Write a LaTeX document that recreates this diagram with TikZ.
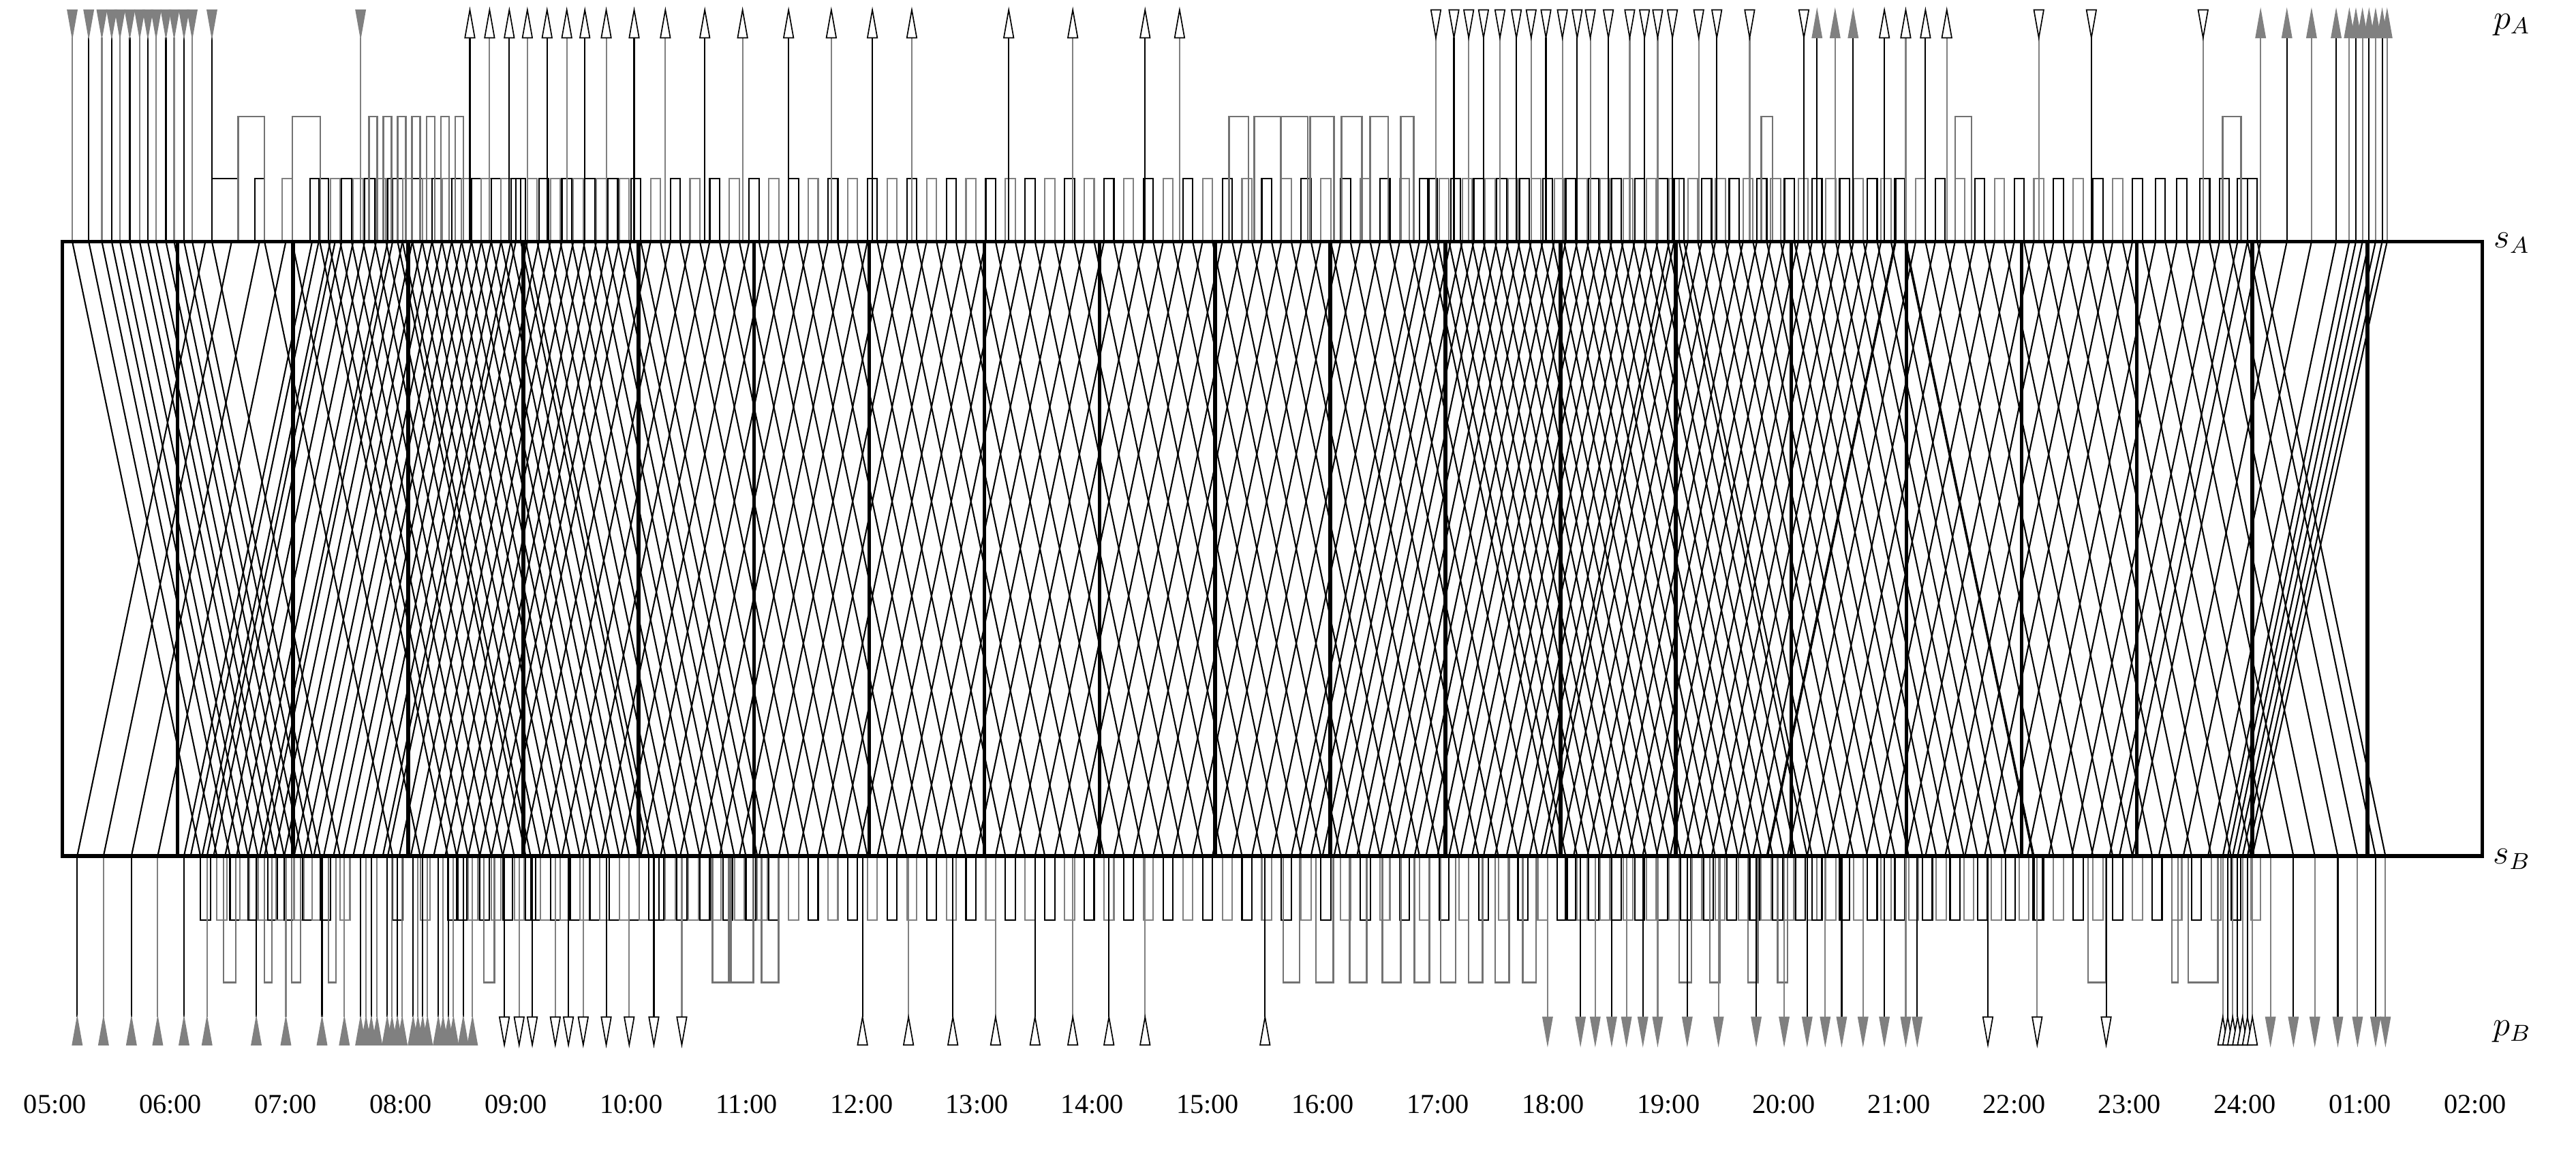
\documentclass[tikz,border=0pt]{standalone}
\usepackage{fontspec}
\setmainfont{Liberation Serif}
\begin{document}
\begin{tikzpicture}[x=0.02cm,y=-0.02cm,
  trip/.style={line width=0.5pt,black},
  combk/.style={line width=0.5pt,black},
  combg/.style={line width=0.5pt,black!50},
  tallg/.style={line width=0.6pt,black!55},
  heavy/.style={line width=1.3pt,black},
  headg/.style={fill=black!50,draw=black!50,line width=0.3pt},
  heado/.style={fill=white,draw=black,line width=0.4pt},
  lbl/.style={font=\fontsize{9.5}{11}\selectfont,inner sep=0pt},
  sidelbl/.style={font=\fontsize{12}{14}\selectfont,inner sep=0pt}]
\useasboundingbox (0,0) rectangle (1568,706);

% ---------- regular service (A departures, combs, B turnbacks)
\foreach \s/\e/\hd/\asc in {161/200/16.8/0,200/245/7/1,245/320/6/1,320/390/7/1,390/875/12/1,875/1025/7/1,1025/1160/8.4/1,1160/1300/12/1}{
  \pgfmathsetmacro\nxt{\s+\hd}
  \pgfmathsetmacro\lst{\e-0.5}
  \foreach \d [count=\k] in {\s,\nxt,...,\lst}{
    \ifodd\k \def\cst{combk}\else\def\cst{combg}\fi
    \draw[trip] (\d,147) -- ++(78,374);
    \ifnum\asc=1 \draw[trip] (\d-84,521) -- (\d-6,147);\fi
    \draw[\cst] (\d-6,147) |- (\d,108.5) -- (\d,147);
    \draw[\cst] (\d+78,521) |- (\d+84,560) -- (\d+84,521);
  }
}

% ---------- early morning trips
\foreach \x [count=\k] in {44,54,62,68,73,79,85,90,95,101,106,112,117,129}{
  \ifodd\k \def\cst{combk}\else\def\cst{combg}\fi
  \draw[trip] (\x,147) -- ++(78,374);
  \draw[\cst] (\x+78,521) |- (\x+84,560) -- (\x+84,521);
}
\foreach \x in {47,63,80,96,112,126} \draw[trip] (\x,521) -- ++(78,-374);
\draw[combk] (129,147) |- (145,108.5) -- (145,147);

% ---------- late night trips
\foreach \a/\b in {1304/1382,1318/1396,1331/1409,1345/1423,1357/1435,1368/1446,1374/1452}{
  \draw[trip] (\a,147) -- (\b,521);
  \draw[combk] (\a-6,147) |- (\a,108.5) -- (\a,147);
  \draw[trip] (\a-84,521) -- (\a-6,147);
}
\foreach \a/\b in {1298/1376,1314/1392,1329/1407,1344/1422,1353/1430,1356/1434,1359/1438,1362/1442,1365/1446,1368/1450,1371/1453}
  \draw[trip] (\a,521) -- (\b,147);

% ---------- long layovers above s_A
\foreach \a/\b in {145/161,178/195,224.7/229.7,233.4/238.4,242.1/247.1,250.8/255.8,259.6/264.6,268.3/273.3,277/282,748/760,763.5/779.7,779.7/796,797.5/812,816.6/829,834/845,852.7/860.6,1072/1079,1190/1200,1353/1364}
  \draw[tallg] (\a,147) |- (\b,71) -- (\b,147);

% ---------- long layovers below s_B
\foreach \a/\b in {136/143.5,161/165.5,177.5/183,200/204.5,294.5/301,433.6/443.6,444.8/458.5,463.5/474,781/791,801/811.6,821.6/832,841.5/852.7,861/870,877/886,894/902.5,910/918.7,927/935,1022/1029.6,1040.7/1047,1064/1070,1082/1088,1271/1282,1322/1325.7,1332/1350}
  \draw[tallg] (\a,521) |- (\b,598) -- (\b,521);

% ---------- depot p_A
\foreach \x [count=\k] in {44,54,62,68,73,79,85,90,95,101,106,112,117,129,219.5}{
  \ifodd\k \def\cst{combg}\else\def\cst{combk}\fi
  \draw[\cst] (\x,23) -- (\x,147);
  \path[headg] (\x-3,6) -- (\x+3,6) -- (\x,23) -- cycle;
}
\foreach \x [count=\k] in {286,298,310,321,333,345,356,369,386,405,429,452,480,506,531,555,614,653,697,718,1147,1160,1172,1185}{
  \ifodd\k \def\cst{combk}\else\def\cst{combg}\fi
  \draw[\cst] (\x,23) -- (\x,147);
  \path[heado] (\x,6) -- (\x-3,23) -- (\x+3,23) -- cycle;
}
\foreach \x [count=\k] in {874,885,894,903,913,923,932,941,951,960,968,979,992,1001,1009,1018,1034,1045,1065,1098,1241,1273,1341}{
  \ifodd\k \def\cst{combg}\else\def\cst{combk}\fi
  \draw[\cst] (\x,23) -- (\x,147);
  \path[heado] (\x-3,6) -- (\x+3,6) -- (\x,23) -- cycle;
}
\foreach \x [count=\k] in {1106,1117,1128,1376,1392,1407,1422,1430,1434,1438,1442,1446,1450,1453}{
  \ifodd\k \def\cst{combk}\else\def\cst{combg}\fi
  \draw[\cst] (\x,23) -- (\x,147);
  \path[headg] (\x,6) -- (\x-3,23) -- (\x+3,23) -- cycle;
}

% ---------- depot p_B
\foreach \x [count=\k] in {47,63,80,96,112,126,156,174,196,209.6,219.5,222.8,226,229.5,235.7,238.6,241.9,244.8,251.5,254.4,257.3,260.2,266.8,269.7,273,276,282,287.6}{
  \ifodd\k \def\cst{combk}\else\def\cst{combg}\fi
  \draw[\cst] (\x,521) -- (\x,619);
  \path[headg] (\x,619) -- (\x-3,636) -- (\x+3,636) -- cycle;
}
\foreach \x [count=\k] in {307,316,324,338,346,355,369,383,398,415,1210,1240,1282}{
  \ifodd\k \def\cst{combk}\else\def\cst{combg}\fi
  \draw[\cst] (\x,521) -- (\x,619);
  \path[heado] (\x-3,619) -- (\x+3,619) -- (\x,636) -- cycle;
}
\foreach \x [count=\k] in {525,553,580,606,630,653,675,697,770,1353,1356,1359,1362,1365,1368,1371}{
  \ifodd\k \def\cst{combk}\else\def\cst{combg}\fi
  \draw[\cst] (\x,521) -- (\x,619);
  \path[heado] (\x,619) -- (\x-3,636) -- (\x+3,636) -- cycle;
}
\foreach \x [count=\k] in {942,962,971,981,990,1000,1009,1027,1046,1069,1086,1100,1111,1121,1134,1147,1160,1167,1382,1396,1409,1423,1435,1446,1452}{
  \ifodd\k \def\cst{combg}\else\def\cst{combk}\fi
  \draw[\cst] (\x,521) -- (\x,619);
  \path[headg] (\x-3,619) -- (\x+3,619) -- (\x,636) -- cycle;
}

% ---------- hour lines and frame
\foreach \tm in {6,...,25} \draw[heavy] ({38+70.15*(\tm-5)},147) -- ++(0,374);
\draw[heavy] (38,147) rectangle (1511,521);

% ---------- labels
\foreach \tm [count=\i from 0] in {05:00,06:00,07:00,08:00,09:00,10:00,11:00,12:00,13:00,14:00,15:00,16:00,17:00,18:00,19:00,20:00,21:00,22:00,23:00,24:00,01:00,02:00}
  \node[lbl] (t\i) at ({33.5+70.15*\i},672) {\tm};
\node[sidelbl] (pA) at (1529,15) {$p_A$};
\node[sidelbl] (sA) at (1529,148) {$s_A$};
\node[sidelbl] (sB) at (1529,523) {$s_B$};
\node[sidelbl] (pB) at (1529,628) {$p_B$};
\end{tikzpicture}
\end{document}
